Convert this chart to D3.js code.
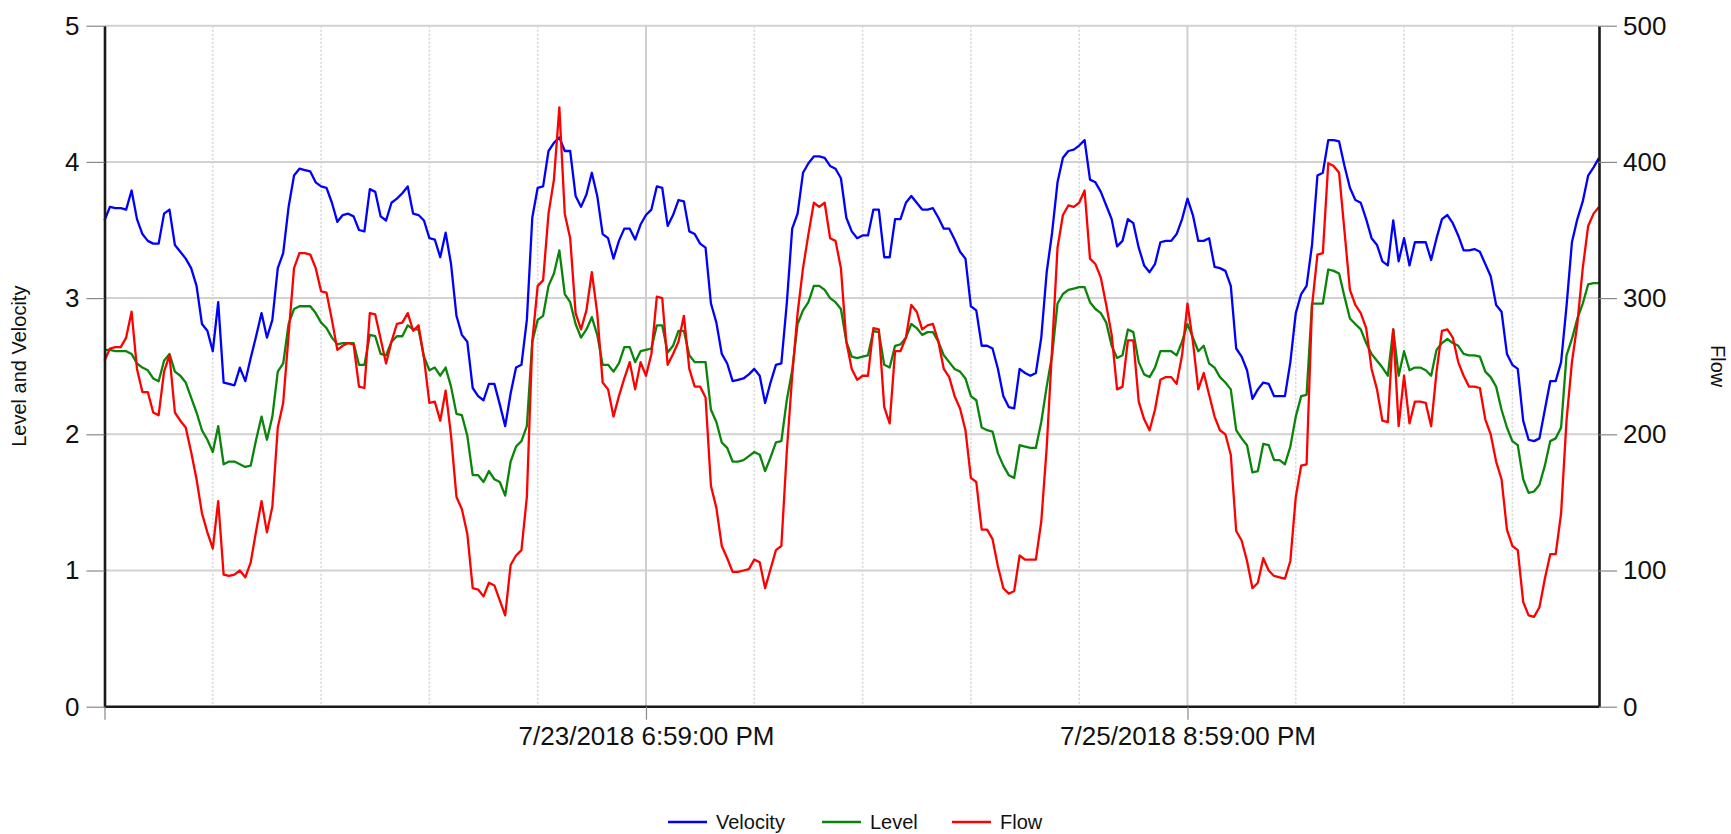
<!DOCTYPE html>
<html>
<head>
<meta charset="utf-8">
<script src="https://cdn.jsdelivr.net/npm/d3@7"></script>
<style>
  html, body { margin: 0; padding: 0; background: #fff; }
  svg { display: block; font-family: "Liberation Sans", Arial, sans-serif; }
</style>
</head>
<body>
<svg id="chart" width="1731" height="834"></svg>
<script>
// Sampling: one reading every 30 minutes from the first timestamp.
const firstReading = "7/21/2018 4:59:00 PM";
const stepMinutes = 30;

// Velocity (left axis)
const velocity = [
  3.57,3.67,3.66,3.66,3.65,3.79,3.58,3.47,3.42,3.4, 3.4,3.62,3.65,3.39,3.34,3.29,3.22,3.09,2.81,2.76,
  2.61,2.97,2.38,2.37,2.36,2.49,2.39,2.56,2.72,2.89, 2.71,2.84,3.22,3.33,3.67,3.9,3.95,3.94,3.93,3.85,
  3.82,3.81,3.7,3.56,3.61,3.62,3.6,3.5,3.49,3.8, 3.78,3.6,3.57,3.7,3.73,3.77,3.82,3.62,3.61,3.57,
  3.44,3.43,3.3,3.48,3.25,2.87,2.73,2.68,2.34,2.28, 2.25,2.37,2.37,2.22,2.06,2.3,2.49,2.51,2.84,3.59,
  3.81,3.82,4.08,4.14,4.18,4.08,4.08,3.75,3.67,3.76, 3.92,3.75,3.47,3.44,3.29,3.42,3.51,3.51,3.43,3.54,
  3.61,3.65,3.82,3.81,3.53,3.61,3.72,3.71,3.49,3.47, 3.4,3.37,2.96,2.82,2.59,2.52,2.39,2.4,2.41,2.44,
  2.48,2.43,2.23,2.38,2.51,2.52,2.96,3.51,3.62,3.92, 3.99,4.04,4.04,4.03,3.97,3.95,3.88,3.59,3.49,3.44,
  3.46,3.46,3.65,3.65,3.3,3.3,3.58,3.58,3.7,3.75, 3.7,3.65,3.65,3.66,3.59,3.51,3.51,3.43,3.34,3.29,
  2.94,2.91,2.65,2.65,2.63,2.48,2.28,2.2,2.19,2.48, 2.45,2.43,2.45,2.71,3.19,3.48,3.85,4.03,4.08,4.09,
  4.12,4.16,3.87,3.85,3.78,3.68,3.58,3.38,3.42,3.58, 3.55,3.37,3.24,3.19,3.25,3.41,3.42,3.42,3.47,3.58,
  3.73,3.61,3.42,3.42,3.44,3.23,3.22,3.2,3.09,2.63, 2.57,2.47,2.26,2.33,2.38,2.37,2.28,2.28,2.28,2.53,
  2.89,3.03,3.09,3.39,3.9,3.92,4.16,4.16,4.15,3.97, 3.81,3.72,3.7,3.58,3.44,3.39,3.27,3.24,3.57,3.27,
  3.44,3.24,3.41,3.41,3.41,3.28,3.44,3.58,3.61,3.55, 3.46,3.35,3.35,3.36,3.34,3.25,3.16,2.95,2.9,2.59,
  2.51,2.48,2.1,1.96,1.95,1.97,2.18,2.39,2.39,2.53, 2.94,3.41,3.58,3.71,3.9,3.96,4.03
];

// Level (left axis)
const level = [
  2.62,2.62,2.61,2.61,2.61,2.59,2.52,2.49,2.47,2.41, 2.39,2.54,2.59,2.46,2.43,2.38,2.27,2.16,2.03,1.96,
  1.87,2.06,1.78,1.8,1.8,1.78,1.76,1.77,1.96,2.13, 1.96,2.13,2.46,2.52,2.81,2.92,2.94,2.94,2.94,2.89,
  2.82,2.78,2.71,2.66,2.67,2.67,2.67,2.51,2.51,2.73, 2.72,2.59,2.58,2.68,2.72,2.72,2.8,2.77,2.77,2.57,
  2.47,2.49,2.43,2.49,2.35,2.15,2.14,1.99,1.7,1.7, 1.65,1.73,1.67,1.65,1.55,1.8,1.91,1.95,2.06,2.68,
  2.84,2.87,3.09,3.18,3.35,3.03,2.97,2.81,2.71,2.77, 2.86,2.73,2.51,2.51,2.46,2.52,2.64,2.64,2.53,2.61,
  2.62,2.63,2.8,2.8,2.6,2.65,2.76,2.76,2.58,2.53, 2.53,2.53,2.18,2.09,1.94,1.9,1.8,1.8,1.81,1.84,
  1.87,1.85,1.73,1.83,1.94,1.95,2.25,2.47,2.81,2.91, 2.97,3.09,3.09,3.06,3.0,2.97,2.92,2.68,2.57,2.56,
  2.57,2.58,2.76,2.75,2.51,2.49,2.65,2.66,2.71,2.81, 2.78,2.73,2.75,2.75,2.68,2.58,2.53,2.48,2.46,2.41,
  2.28,2.25,2.05,2.03,2.02,1.86,1.77,1.7,1.68,1.92, 1.91,1.9,1.9,2.09,2.35,2.58,2.96,3.03,3.06,3.07,
  3.08,3.08,2.97,2.92,2.89,2.82,2.65,2.56,2.58,2.77, 2.75,2.53,2.44,2.42,2.49,2.61,2.61,2.61,2.58,2.68,
  2.81,2.71,2.61,2.65,2.52,2.49,2.42,2.38,2.33,2.03, 1.97,1.92,1.72,1.73,1.93,1.92,1.81,1.81,1.78,1.91,
  2.13,2.28,2.29,2.96,2.96,2.96,3.21,3.2,3.18,3.01, 2.85,2.81,2.77,2.67,2.59,2.54,2.49,2.43,2.77,2.43,
  2.61,2.47,2.49,2.49,2.47,2.43,2.62,2.67,2.7,2.67, 2.65,2.59,2.58,2.58,2.57,2.46,2.42,2.35,2.18,2.05,
  1.95,1.92,1.67,1.57,1.58,1.63,1.77,1.95,1.97,2.05, 2.58,2.7,2.85,2.96,3.1,3.11,3.11
];

// Flow (right axis)
const flow = [
  254,263,264,264,271,290,248,231,231,216, 214,246,258,216,210,205,187,167,142,128,
  116,151,97,96,97,100,95,106,129,151, 128,147,205,223,273,322,333,333,332,322,
  305,304,284,262,265,267,266,235,234,289, 288,270,252,268,281,282,289,276,280,256,
  223,224,210,232,199,154,145,127,87,86, 81,91,89,78,67,104,111,115,154,268,
  309,313,362,387,440,362,344,289,277,291, 319,289,238,233,213,228,241,253,233,253,
  243,259,301,300,251,259,268,287,248,235, 235,227,162,146,118,109,99,99,100,101,
  108,106,87,101,115,118,187,243,289,322, 347,370,367,370,344,342,322,268,248,240,
  243,243,278,277,220,208,261,261,271,295, 290,277,280,281,268,248,242,228,219,203,
  168,165,130,130,123,103,87,83,85,111, 108,108,108,136,190,263,337,361,368,367,
  370,379,329,325,315,295,273,233,235,269, 269,224,211,203,218,240,242,242,237,258,
  296,268,233,245,229,213,203,200,185,129, 122,107,87,91,109,100,96,95,94,107,
  154,177,178,294,332,333,399,397,392,349, 306,295,289,278,248,233,210,209,277,206,
  243,208,224,224,223,206,246,276,277,271, 253,243,235,235,234,211,200,180,167,130,
  118,115,77,67,66,73,94,112,112,142, 210,253,281,322,353,362,367
];

const leftTicks = [0, 1, 2, 3, 4, 5];
const rightTicks = [0, 100, 200, 300, 400, 500];
const dateTickLabels = ["7/23/2018 6:59:00 PM", "7/25/2018 8:59:00 PM"];
const gridEveryHours = 10;
const legendNames = ["Velocity", "Level", "Flow"];

// ---- layout ----
const W = 1731, H = 834;
const plot = { left: 104.5, right: 1599, top: 25.7, bottom: 706.7 };
const colors = { Velocity: "#0000ff", Level: "#0a840a", Flow: "#ff0000" };
const gridColor = "#d2d2d2";

const parseTime = d3.timeParse("%m/%d/%Y %I:%M:%S %p");
const t0 = parseTime(firstReading);
const times = velocity.map((_, i) => d3.timeMinute.offset(t0, i * stepMinutes));
const majorDates = dateTickLabels.map(parseTime);

const x = d3.scaleTime()
  .domain([t0, times[times.length - 1]])
  .range([plot.left, plot.right]);
const yLeft = d3.scaleLinear().domain([0, 5]).range([plot.bottom, plot.top]);
const yRight = d3.scaleLinear().domain([0, 500]).range([plot.bottom, plot.top]);

const svg = d3.select("#chart");
svg.append("rect").attr("width", W).attr("height", H).attr("fill", "#fff");

// horizontal grid
svg.append("g").selectAll("line").data(leftTicks.filter(d => d > 0)).join("line")
  .attr("x1", plot.left).attr("x2", plot.right)
  .attr("y1", d => yLeft(d)).attr("y2", d => yLeft(d))
  .attr("stroke", gridColor).attr("stroke-width", 2);

// vertical grid: dotted every 10 h, solid at labelled dates
const gridDates = d3.range(1, 14).map(k => d3.timeHour.offset(t0, k * gridEveryHours));
const isMajor = d => majorDates.some(m => Math.abs(m - d) < 60000);
svg.append("g").selectAll("line").data(gridDates).join("line")
  .attr("x1", d => x(d)).attr("x2", d => x(d))
  .attr("y1", plot.top).attr("y2", plot.bottom)
  .attr("stroke", d => isMajor(d) ? "#cfcfcf" : "#d6d6d6")
  .attr("stroke-width", d => isMajor(d) ? 2 : 1.6)
  .attr("stroke-dasharray", d => isMajor(d) ? null : "2,2");

// series
const lineLeft = d3.line().x((d, i) => x(times[i])).y(d => yLeft(d));
const lineRight = d3.line().x((d, i) => x(times[i])).y(d => yRight(d));
const lines = svg.append("g").attr("fill", "none")
  .attr("stroke-width", 2.3).attr("stroke-linejoin", "round");
lines.append("path").attr("d", lineLeft(velocity)).attr("stroke", colors.Velocity);
lines.append("path").attr("d", lineLeft(level)).attr("stroke", colors.Level);
lines.append("path").attr("d", lineRight(flow)).attr("stroke", colors.Flow);

// axes
function styleAxis(g) {
  g.selectAll(".tick line").attr("stroke", "#888").attr("stroke-width", 1.2);
  g.selectAll(".tick text").attr("fill", "#111").attr("font-size", 26)
    .attr("font-family", "'Liberation Sans', Arial, sans-serif");
  g.select(".domain").attr("stroke", "#1a1a1a").attr("stroke-width", 2.6);
}

svg.append("g").attr("transform", `translate(${plot.left},0)`)
  .call(d3.axisLeft(yLeft).tickValues(leftTicks).tickFormat(d3.format("d"))
    .tickSize(18).tickSizeOuter(0).tickPadding(7))
  .call(styleAxis);

svg.append("g").attr("transform", `translate(${plot.right},0)`)
  .call(d3.axisRight(yRight).tickValues(rightTicks).tickFormat(d3.format("d"))
    .tickSize(18).tickSizeOuter(0).tickPadding(6))
  .call(styleAxis);

const labelFor = d => {
  const k = majorDates.findIndex(m => Math.abs(m - d) < 60000);
  return k >= 0 ? dateTickLabels[k] : "";
};
svg.append("g").attr("transform", `translate(0,${plot.bottom})`)
  .call(d3.axisBottom(x).tickValues([t0, ...majorDates]).tickFormat(labelFor)
    .tickSize(13).tickSizeOuter(0).tickPadding(7))
  .call(styleAxis)
  .call(g => g.select(".domain").attr("d", `M${plot.left},0H${plot.right}`));

// axis titles
svg.append("text")
  .attr("transform", `translate(21,${(plot.top + plot.bottom) / 2}) rotate(-90)`)
  .attr("text-anchor", "middle").attr("dominant-baseline", "middle")
  .attr("font-size", 20).attr("fill", "#111").text("Level and Velocity");
svg.append("text")
  .attr("transform", `translate(1716,${(plot.top + plot.bottom) / 2}) rotate(90)`)
  .attr("text-anchor", "middle").attr("dominant-baseline", "middle")
  .attr("font-size", 20).attr("fill", "#111").text("Flow");

// legend
const legendX = [668, 822, 952];
const legend = svg.append("g").attr("transform", "translate(0,822)");
legendNames.forEach((name, i) => {
  const g = legend.append("g").attr("transform", `translate(${legendX[i]},0)`);
  g.append("line").attr("x1", 0).attr("x2", 39).attr("y1", 0).attr("y2", 0)
    .attr("stroke", colors[name]).attr("stroke-width", 2.3);
  g.append("text").attr("x", 48).attr("y", 0).attr("dy", "0.35em")
    .attr("font-size", 20).attr("fill", "#111").text(name);
});
</script>
</body>
</html>
